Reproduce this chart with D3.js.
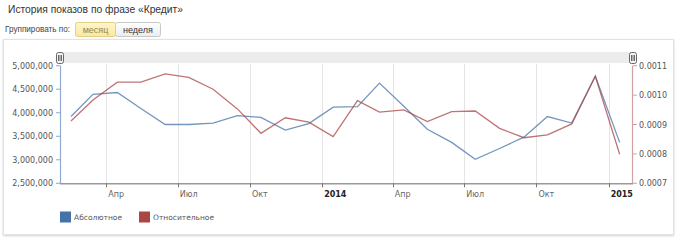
<!DOCTYPE html>
<html><head><meta charset="utf-8">
<script src="https://cdn.jsdelivr.net/npm/d3@7"></script>
<style>
html,body{margin:0;padding:0;background:#fff;}
svg{display:block;}
</style></head>
<body><svg id="c" width="680" height="242"></svg>
<script>
const months = ["2013-02","2013-03","2013-04","2013-05","2013-06","2013-07","2013-08","2013-09","2013-10","2013-11","2013-12",
  "2014-01","2014-02","2014-03","2014-04","2014-05","2014-06","2014-07","2014-08","2014-09","2014-10","2014-11","2014-12","2015-01"];
const absoluteValues = [3920000,4390000,4430000,4090000,3750000,3750000,3780000,3940000,3900000,3630000,3770000,
  4120000,4130000,4630000,4140000,3650000,3370000,3010000,3240000,3480000,3920000,3780000,4780000,3370000];
const relativeValues = [0.000912,0.000983,0.001044,0.001044,0.001072,0.001060,0.001020,0.000953,0.000870,0.000923,0.000908,
  0.000859,0.000981,0.000942,0.000950,0.000910,0.000944,0.000946,0.000887,0.000855,0.000865,0.000902,0.001064,0.000799];
const leftTicks = [2500000,3000000,3500000,4000000,4500000,5000000];
const rightTicks = [0.0007,0.0008,0.0009,0.0010,0.0011];
const xTickDates = ["2013-04","2013-07","2013-10","2014-01","2014-04","2014-07","2014-10","2015-01"];
const xTickLabels = ["Апр","Июл","Окт","2014","Апр","Июл","Окт","2015"];
const seriesNames = ["Абсолютное","Относительное"];
const title = "История показов по фразе «Кредит»";

const parseM = d3.timeParse("%Y-%m");
const mid = s => { const d = parseM(s); return new Date(d.getFullYear(), d.getMonth(), 15); };

const svg = d3.select("#c");
const X0 = 60, X1 = 633, YT = 65.7, YB = 183.3;
const x = d3.scaleTime().domain([new Date(2013,1,1), new Date(2015,1,1)]).range([X0, X1]);
const yL = d3.scaleLinear().domain([2500000,5000000]).range([YB, YT]);
const yR = d3.scaleLinear().domain([0.0007,0.0011]).range([YB, YT]);

// header
svg.append("text").attr("x",8).attr("y",13).attr("font-family","Liberation Sans, Arial, sans-serif")
  .attr("font-size",10.5).attr("fill","#333").attr("textLength",175).attr("lengthAdjust","spacingAndGlyphs").text(title);
svg.append("text").attr("x",5).attr("y",32).attr("font-family","Liberation Sans, Arial, sans-serif")
  .attr("font-size",9).attr("fill","#444").attr("textLength",65).attr("lengthAdjust","spacingAndGlyphs").text("Группировать по:");
const defs = svg.append("defs");
const g1 = defs.append("linearGradient").attr("id","selg").attr("x1",0).attr("y1",0).attr("x2",0).attr("y2",1);
g1.append("stop").attr("offset","0").attr("stop-color","#fff6cf");
g1.append("stop").attr("offset","1").attr("stop-color","#fbe79a");
const g2 = defs.append("linearGradient").attr("id","btng").attr("x1",0).attr("y1",0).attr("x2",0).attr("y2",1);
g2.append("stop").attr("offset","0").attr("stop-color","#ffffff");
g2.append("stop").attr("offset","1").attr("stop-color","#ececec");
svg.append("rect").attr("x",115.5).attr("y",22.5).attr("width",45).attr("height",14).attr("rx",2)
  .attr("fill","url(#btng)").attr("stroke","#c8c8c8");
svg.append("rect").attr("x",75.5).attr("y",22.5).attr("width",40).attr("height",14).attr("rx",2)
  .attr("fill","url(#selg)").attr("stroke","#e3cf86");
svg.append("text").attr("x",95.5).attr("y",32.5).attr("text-anchor","middle").attr("font-family","Liberation Sans, Arial, sans-serif")
  .attr("font-size",9).attr("fill","#9a8650").text("месяц");
svg.append("text").attr("x",138).attr("y",32.5).attr("text-anchor","middle").attr("font-family","Liberation Sans, Arial, sans-serif")
  .attr("font-size",9).attr("fill","#333").text("неделя");

// container
const sh = defs.append("filter").attr("id","sh").attr("x","-5%").attr("y","-5%").attr("width","110%").attr("height","115%");
sh.append("feDropShadow").attr("dx",0).attr("dy",1).attr("stdDeviation",1.2).attr("flood-color","#000").attr("flood-opacity",0.18);
svg.append("rect").attr("x",3.5).attr("y",39.5).attr("width",670).attr("height",195).attr("fill","#fff")
  .attr("stroke","#e2e2e2").attr("filter","url(#sh)");

// navigator band
svg.append("rect").attr("x",X0).attr("y",52).attr("width",X1-X0).attr("height",11).attr("fill","#ececec");

// grid
svg.append("g").selectAll("line").data(xTickDates).join("line")
  .attr("x1",d=>Math.round(x(parseM(d)))+0.5).attr("x2",d=>Math.round(x(parseM(d)))+0.5)
  .attr("y1",YT-2).attr("y2",YB).attr("stroke","#e4e4e4").attr("stroke-width",1);

// x axis
svg.append("line").attr("x1",X0).attr("x2",X1).attr("y1",YB+0.5).attr("y2",YB+0.5).attr("stroke","#999").attr("stroke-width",1.5);
svg.append("g").selectAll("line").data(xTickDates).join("line")
  .attr("x1",d=>Math.round(x(parseM(d)))+0.5).attr("x2",d=>Math.round(x(parseM(d)))+0.5)
  .attr("y1",YB).attr("y2",YB+4).attr("stroke","#777");
svg.append("g").selectAll("text").data(xTickDates).join("text")
  .attr("x",d=>x(parseM(d))+2).attr("y",197)
  .attr("font-family","DejaVu Sans, Verdana, sans-serif").attr("font-size",8)
  .attr("font-weight",(d,i)=>/^\d/.test(xTickLabels[i])?"bold":"normal")
  .attr("fill",(d,i)=>/^\d/.test(xTickLabels[i])?"#222":"#666")
  .text((d,i)=>xTickLabels[i]);

// left axis
svg.append("line").attr("x1",X0+0.5).attr("x2",X0+0.5).attr("y1",YT).attr("y2",YB).attr("stroke","#8fa9cf").attr("stroke-width",1.2);
svg.append("g").selectAll("line").data(leftTicks).join("line")
  .attr("x1",X0-4).attr("x2",X0).attr("y1",d=>yL(d)).attr("y2",d=>yL(d)).attr("stroke","#8fa9cf");
svg.append("g").selectAll("text").data(leftTicks).join("text")
  .attr("x",53).attr("y",d=>yL(d)+3).attr("text-anchor","end")
  .attr("font-family","DejaVu Sans, Verdana, sans-serif").attr("font-size",8).attr("fill","#555")
  .text(d=>d3.format(",")(d));

// right axis
svg.append("line").attr("x1",X1-0.5).attr("x2",X1-0.5).attr("y1",YT).attr("y2",YB).attr("stroke","#d1a1a0").attr("stroke-width",1.2);
svg.append("g").selectAll("line").data(rightTicks).join("line")
  .attr("x1",X1).attr("x2",X1+4).attr("y1",d=>yR(d)).attr("y2",d=>yR(d)).attr("stroke","#d1a1a0");
svg.append("g").selectAll("text").data(rightTicks).join("text")
  .attr("x",639).attr("y",d=>yR(d)+3)
  .attr("font-family","DejaVu Sans, Verdana, sans-serif").attr("font-size",8).attr("fill","#555")
  .text(d=>d3.format(".4f")(d));

// lines
const lineA = d3.line().x((d,i)=>x(mid(months[i]))).y(d=>yL(d));
const lineR = d3.line().x((d,i)=>x(mid(months[i]))).y(d=>yR(d));
svg.append("path").datum(absoluteValues).attr("d",lineA).attr("fill","none")
  .attr("stroke","#4572A7").attr("stroke-opacity",0.75).attr("stroke-width",1.3);
svg.append("path").datum(relativeValues).attr("d",lineR).attr("fill","none")
  .attr("stroke","#AA4643").attr("stroke-opacity",0.75).attr("stroke-width",1.3);

// navigator handles
[X0, X1].forEach(hx=>{
  const g = svg.append("g");
  g.append("rect").attr("x",hx-3.5).attr("y",52.5).attr("width",7).attr("height",11).attr("rx",2)
    .attr("fill","#f4f4f4").attr("stroke","#666");
  [-1.5,0,1.5].forEach(o=>g.append("line").attr("x1",hx+o).attr("x2",hx+o).attr("y1",55).attr("y2",61).attr("stroke","#444").attr("stroke-width",0.8));
});

// legend
const legColors = ["#4572A7","#AA4643"];
const legX = [60,139];
const lg = svg.append("g").selectAll("g").data(seriesNames).join("g");
lg.append("rect").attr("x",(d,i)=>legX[i]).attr("y",211.5).attr("width",11).attr("height",11).attr("fill",(d,i)=>legColors[i]);
lg.append("text").attr("x",(d,i)=>legX[i]+14).attr("y",220)
  .attr("font-family","DejaVu Sans, Verdana, sans-serif").attr("font-size",7.5).attr("fill","#555").text(d=>d);
</script></body></html>
